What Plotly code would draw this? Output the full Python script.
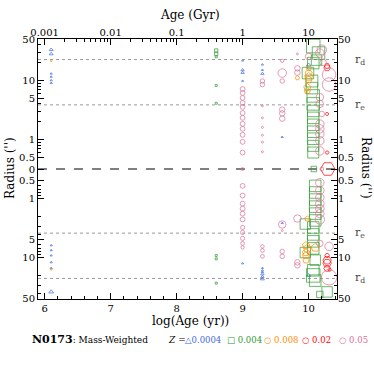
import numpy as np
import plotly.graph_objects as go

# log(age/yr), signed radius in arcsec (>0 upper half, <0 lower half), mass fraction (%)
BLUE_AGE = [6.1, 6.1, 6.1, 6.1, 6.1, 6.1, 9.0, 9.0, 9.0, 9.0, 9.3, 9.3, 9.3, 9.6, 10.0,
            6.1, 6.1, 6.1, 6.1, 6.1, 6.1, 9.0, 9.3, 9.3, 9.3, 9.3, 9.3, 9.3, 9.6, 10.0]
BLUE_R = [33, 28, 13, 11.5, 10, 9, 21.6, 15, 13.5, 9.8, 18.5, 15, 13, 1.1, 18.2,
          -38, -6.2, -7.5, -9.2, -12, -15, -12.5, -15, -16.5, -17.5, -19, -21, -23, -2.6, -20]
BLUE_FRAC = [0.7, 0.7, 0, 0, 0, 0, 0, 0.3, 0.3, 0, 0, 0, 0.3, 0, 1.5,
             1.5, 0, 0, 0, 0, 0, 0, 0, 0, 0, 0.3, 0.3, 0.7, 0, 1]

GREEN_AGE = [8.6, 8.6, 8.6, 8.6, 8.6,
             10.07, 10.15, 10.12, 10.07, 9.99, 10.05, 10.05, 10.07, 10.07, 10.07, 10.07,
             10.07, 10.07, 10.07, 10.07, 10.07, 10.08,
             8.6, 8.6, 8.6,
             10.1, 10.1, 10.1, 10.1, 10.1, 10.1, 9.95, 10.07, 10.07, 10.07, 10.07, 9.95,
             10.1, 10.07, 10.07, 10.1, 10.28, 10.17]
GREEN_R = [32, 28, 25, 8.2, 4.1,
           38, 29, 22, 19.6, 13.3, 9.75, 7.4, 5.45, 4.0, 3.04, 2.32,
           1.77, 1.35, 1.03, 0.78, 0.6, 0,
           -9.2, -10.5, -27,
           -0.61, -0.79, -1.04, -1.37, -1.8, -2.35, -2.7, -3.09, -4.05, -5.3, -6.98, -8.2,
           -11, -16.4, -20, -24.5, -38, -42]
GREEN_FRAC = [0.5, 0.5, 0, 0, 0,
              41, 34, 22, 28, 28, 30, 28, 34, 34, 28, 28,
              28, 28, 28, 25, 25, 3.8,
              0, 0, 0,
              28, 28, 28, 28, 28, 28, 22, 28, 28, 28, 28, 22,
              22, 28, 41, 28, 22, 6]

ORANGE_AGE = [6.1, 9.83, 10.0, 10.0, 10.0, 10.0, 9.98, 9.98,
              6.1, 9.98, 9.96, 9.98, 10.1, 9.96, 9.96, 9.96]
ORANGE_R = [21.5, 11, 16, 13.2, 11.5, 10.2, 7.6, 6.6,
            -15.7, -2.2, -6.2, -7.0, -6.8, -8.2, -9.2, -11.1]
ORANGE_FRAC = [0, 1.9, 3.8, 9.3, 13, 9.3, 9.3, 6.3,
               0, 3.8, 9.3, 13, 13, 9.3, 9.3, 6.3]

RED_AGE = [10.28, 10.28, 10.28, 10.28, 10.29, 10.28, 10.28, 10.28, 10.28, 10.32]
RED_R = [16.3, 17.5, 2.7, 0.6, 0, -9.2, -11.1, -12.4, -15.2, -16]
RED_FRAC = [6.3, 3.8, 0.5, 0.7, 48, 1.9, 13, 13, 6.3, 0.5]

PINK_AGE = [9.0] * 13 + [9.3] * 8 + [9.6] * 6 + [9.83] * 3 + [10.0] \
    + [10.2, 10.17, 10.22, 10.17, 10.17, 10.2, 10.17, 10.17, 10.17, 10.17, 10.17] + [10.31, 10.31] + [10.2] \
    + [9.0] * 11 + [9.3] * 3 + [9.6] * 4 + [9.83] * 3 + [10.17] * 8 + [10.31, 10.31]
PINK_R = [7.13, 6.12, 5.04, 4.15, 3.55, 2.81, 2.32, 1.84, 1.51, 1.2, 0.91, 0.6, 0,
          9.75, 8.5, 3.7, 2.32, 1.6, 1.18, 0.9, 0.62,
          21.4, 13.3, 9.75, 3.2, 2.76, 2.25,
          28, 16, 13.5,
          25.5,
          33, 29, 20, 5.2, 4.0, 2.7, 1.82, 1.51, 1.24, 0.95, 0.64,
          12.5, 8.5,
          0,
          -0.61, -0.89, -1.22, -1.48, -1.8, -2.26, -3.09, -3.75, -4.73, -5.75, -6.7,
          -6.46, -7.55, -9.5,
          -2.75, -3.47, -7.85, -9.5,
          -2.18, -12, -13.5,
          -0.54, -0.73, -0.96, -1.22, -1.48, -1.8, -2.26, -5.75,
          -6.46, -21.5]
PINK_FRAC = [2.5, 2.5, 2.5, 2.5, 2.5, 2.5, 2.5, 2.5, 2.5, 2.5, 2.5, 2.5, 0.3,
             1.9, 1.9, 0, 0, 0, 0, 0, 0,
             0.5, 13, 1.9, 3.8, 3.8, 3.8,
             0, 3.8, 3.8,
             6.3,
             17, 13, 6.3, 9.3, 9.3, 3.8, 13, 13, 13, 13, 13,
             41, 41,
             1,
             2.5, 2.5, 2.5, 2.5, 2.5, 2.5, 1.5, 1.5, 1.5, 1, 0.5,
             0.7, 1, 1,
             9.3, 0, 1.9, 1.9,
             9.3, 3.8, 3.8,
             13, 13, 13, 13, 13, 13, 17, 6.3,
             13, 56]

R_D = 22.5
R_E = 3.85

AGE_TICKS = [6, 7, 8, 9, 10]
GYR_LABELS = ["0.001", "0.01", "0.1", "1", "10"]
R_TICKS = [50, 10, 5, 1, 0.5, 0, -0.5, -1, -5, -10, -50]
R_MINOR = [40, 30, 20, 9, 8, 7, 6, 4, 3, 2, 0.9, 0.8, 0.7, 0.6]


def radius_axis(r):
    # folded log scale: |r| = 10**-0.5 sits on the midline
    r = np.asarray(r, dtype=float)
    out = np.zeros_like(r)
    nz = r != 0
    out[nz] = np.sign(r[nz]) * (np.log10(np.abs(r[nz])) + 0.5)
    return out


def marker_size(frac):
    return 2 + 1.8 * np.sqrt(np.asarray(frac, dtype=float))


COLORS = {"0.0004": "#4169e1", "0.004": "#2e9a2e", "0.008": "#ff8c00", "0.02": "#ff0000", "0.05": "#db7093"}

series = [
    ("0.0004", BLUE_AGE, BLUE_R, BLUE_FRAC, "triangle-up-open"),
    ("0.004", GREEN_AGE, GREEN_R, GREEN_FRAC, "square-open"),
    ("0.008", ORANGE_AGE, ORANGE_R, ORANGE_FRAC, "pentagon-open"),
    ("0.02", RED_AGE, RED_R, RED_FRAC, "hexagon2-open"),
    ("0.05", PINK_AGE, PINK_R, PINK_FRAC, "circle-open"),
]

fig = go.Figure()
for name, age, rad, frac, symbol in series:
    color = COLORS[name]
    fig.add_trace(
        go.Scatter(
            x=age,
            y=radius_axis(rad),
            mode="markers",
            name=name,
            marker=dict(symbol=symbol, size=marker_size(frac), color=color,
                        line=dict(width=1, color=color)),
            hoverinfo="skip",
        )
    )
# carries the top / right axes
fig.add_trace(go.Scatter(x=[], y=[], xaxis="x2", yaxis="y2", showlegend=False))

X_RANGE = [5.9, 10.43]
Y_RANGE = [-2.2, 2.2]
top_minor = [n + np.log10(k) for n in range(6, 11) for k in range(2, 10) if n + np.log10(k) < X_RANGE[1]]
y_ticks = list(radius_axis(R_TICKS))
y_text = [f"{abs(v):g}" for v in R_TICKS]
y_minor = list(radius_axis(R_MINOR)) + list(radius_axis([-v for v in R_MINOR]))

tickfont = dict(family="DejaVu Serif", size=10, color="black")
common_y = dict(range=Y_RANGE, tickvals=y_ticks, ticktext=y_text, ticks="inside", ticklen=6,
                tickcolor="black", tickfont=tickfont, showgrid=False, zeroline=False,
                minor=dict(tickvals=y_minor, ticks="inside", ticklen=3, tickcolor="black"))

shapes = [dict(type="line", xref="paper", x0=0, x1=1, yref="y", y0=0, y1=0, layer="below",
               line=dict(color="black", width=1, dash="dash"))]
for rv in [R_D, R_E, -R_E, -R_D]:
    yv = float(radius_axis([rv])[0])
    shapes.append(dict(type="line", xref="paper", x0=0, x1=1, yref="y", y0=yv, y1=yv, layer="below",
                       line=dict(color="#999999", width=1, dash="dot")))


# page pixel -> paper coords (plot area spans x 38..337, y 39..299)
def px_x(px):
    return (px - 38) / 299


def px_y(py):
    return (299 - py) / 260


title_font = dict(family="DejaVu Serif", size=12, color="black")
annotations = [
    dict(text="Age (Gyr)", x=px_x(190), y=px_y(15), font=title_font),
    dict(text="log(Age (yr))", x=px_x(190), y=px_y(321), font=title_font),
    dict(text="Radius ('')", x=px_x(10), y=px_y(168), textangle=-90, font=title_font),
    dict(text="Radius ('')", x=px_x(366), y=px_y(168), textangle=90, font=title_font),
    dict(text="<b>N0173</b><span style='font-size:9px'>: Mass-Weighted</span>",
         x=px_x(30), y=px_y(340), xanchor="left", font=dict(family="DejaVu Serif", size=11, color="black")),
    dict(text="<i>Z</i> =", x=px_x(166), y=px_y(340), xanchor="left",
         font=dict(family="DejaVu Serif", size=9, color="black")),
]
legend_items = [("0.0004", "△", 183), ("0.004", "□", 225), ("0.008", "○", 262), ("0.02", "○", 300), ("0.05", "○", 337)]
for z, sym, px in legend_items:
    annotations.append(dict(text=f"{sym} {z}" if z != "0.0004" else f"{sym}{z}", x=px_x(px), y=px_y(340),
                            xanchor="left", font=dict(family="DejaVu Serif", size=8.5, color=COLORS[z])))
for lab, rv in [("r<sub>d</sub>", R_D), ("r<sub>e</sub>", R_E), ("r<sub>e</sub>", -R_E), ("r<sub>d</sub>", -R_D)]:
    annotations.append(dict(text=lab, x=px_x(360), yref="y", y=float(radius_axis([rv])[0]),
                            font=dict(family="DejaVu Serif", size=11, color="#444444")))
for a in annotations:
    a.setdefault("xref", "paper")
    a.setdefault("yref", "paper")
    a.setdefault("xanchor", "center")
    a.setdefault("yanchor", "middle")
    a["showarrow"] = False

fig.update_layout(
    width=374,
    height=374,
    margin=dict(l=38, r=37, t=39, b=75),
    paper_bgcolor="white",
    plot_bgcolor="white",
    showlegend=False,
    font=dict(family="DejaVu Serif", size=10, color="black"),
    xaxis=dict(range=X_RANGE, tickvals=AGE_TICKS, ticktext=[str(t) for t in AGE_TICKS],
               ticks="inside", ticklen=6, tickcolor="black", tickfont=tickfont,
               minor=dict(dtick=0.2, tick0=6, ticks="inside", ticklen=3, tickcolor="black"),
               showline=True, linecolor="black", linewidth=1, mirror=True,
               showgrid=False, zeroline=False),
    xaxis2=dict(overlaying="x", side="top", anchor="y2", range=X_RANGE, tickvals=AGE_TICKS,
                ticktext=GYR_LABELS, ticks="inside", ticklen=6, tickcolor="black", tickfont=tickfont,
                minor=dict(tickvals=top_minor, ticks="inside", ticklen=3, tickcolor="black"),
                showgrid=False, zeroline=False),
    yaxis=dict(showline=True, linecolor="black", linewidth=1, mirror=True, **common_y),
    yaxis2=dict(overlaying="y", side="right", anchor="x2", **common_y),
    shapes=shapes,
    annotations=annotations,
)

# drop the default page margin so the 374px figure fills the window exactly
fig.write_html("out.html", config={"displayModeBar": False},
               post_script="document.body.style.margin = '0px';")
